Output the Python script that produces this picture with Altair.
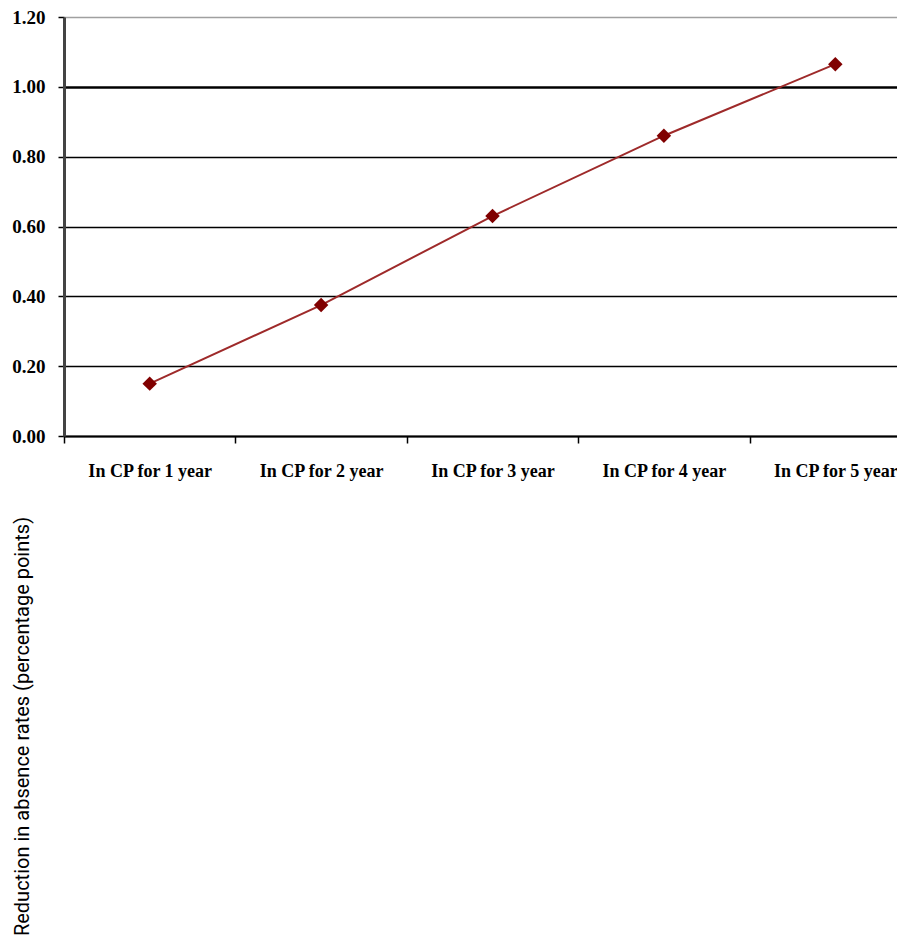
import altair as alt
import pandas as pd

categories = ["In CP for 1 year", "In CP for 2 year", "In CP for 3 year",
              "In CP for 4 year", "In CP for 5 year"]
values = [0.15, 0.375, 0.63, 0.86, 1.065]
y_ticks = [0.0, 0.2, 0.4, 0.6, 0.8, 1.0, 1.2]
y_title = "Reduction in absence rates (percentage points)"

df = pd.DataFrame({"cat": categories, "val": values})

x_enc = alt.X(
    "cat:N", sort=categories,
    scale=alt.Scale(type="band", range=[0, 857], paddingInner=0, paddingOuter=0),
    axis=alt.Axis(
        title=None, labelAngle=0, tickBand="extent", grid=False,
        domainColor="black", domainWidth=2, tickColor="black", tickWidth=1.5,
        tickSize=7, labelFont="Liberation Serif", labelFontSize=18,
        labelFontWeight="bold", labelColor="black", labelPadding=19,
    ),
)
y_enc = alt.Y(
    "val:Q",
    scale=alt.Scale(domain=[0, 1.2], nice=False, zero=True),
    axis=alt.Axis(
        values=y_ticks, format=".2f", title=y_title,
        titleFont="Roboto", titleFontSize=20, titleFontWeight="normal",
        titleColor="black",
        titleAngle=270, titleAlign="center", titleBaseline="middle",
        titleX=-42, titleY=709,
        labelFont="Liberation Serif", labelFontSize=19, labelFontWeight="bold",
        labelColor="black", labelPadding=13,
        domainColor="#444444", domainWidth=3, tickColor="black", tickWidth=1.5,
        tickSize=6,
        grid=True,
        gridColor={"condition": {"test": "datum.value >= 1.19", "value": "#a0a0a0"}, "value": "black"},
        gridWidth={"condition": {"test": "datum.value >= 0.99 && datum.value <= 1.01", "value": 2.5}, "value": 1.5},
    ),
)

line = alt.Chart(df).mark_line(color="#9e2a2a", strokeWidth=2).encode(x=x_enc, y=y_enc)
pts = alt.Chart(df).mark_point(shape="diamond", filled=True, size=210, color="#800000", opacity=1).encode(
    x=alt.X("cat:N", sort=categories), y="val:Q")

chart = alt.layer(line, pts).properties(
    width=833, height=419,
    autosize=alt.AutoSizeParams(type="none"),
    padding={"left": 56, "top": 9, "right": 0, "bottom": 506},
).configure_view(stroke="transparent")

chart.save("out.html", embed_options={"renderer": "svg", "actions": False})
